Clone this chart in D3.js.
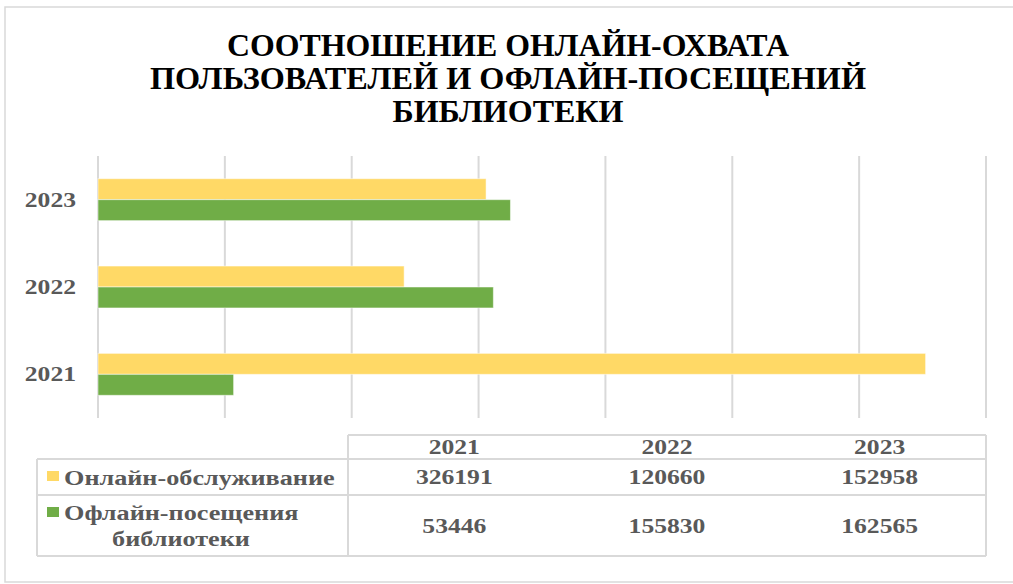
<!DOCTYPE html>
<html>
<head>
<meta charset="utf-8">
<script src="https://cdn.jsdelivr.net/npm/d3@7"></script>
<style>
  body { margin: 0; background: #fff; }
  svg { display: block; }
</style>
</head>
<body>
<div id="chart"></div>
<script>
const years = ["2021", "2022", "2023"]
const online = [326191, 120660, 152958]
const offline = [53446, 155830, 162565]
const seriesNames = ["Онлайн-обслуживание", "Офлайн-посещения библиотеки"]
const seriesColors = ["#FFD966", "#70AD47"]
const titleLines = ["СООТНОШЕНИЕ ОНЛАЙН-ОХВАТА", "ПОЛЬЗОВАТЕЛЕЙ И ОФЛАЙН-ПОСЕЩЕНИЙ", "БИБЛИОТЕКИ"]

const WIDTH = 1013
const HEIGHT = 584
const FONT = "'Liberation Serif', 'Times New Roman', serif"
const GRID = "#d9d9d9"
const TEXT = "#595959"

const PLOT = { LEFT: 98, RIGHT: 986, TOP: 156, BOTTOM: 418 }
const TABLE = { LEFT: 37, SPLIT: 348, RIGHT: 986, TOP: 435, HEAD: 459, ROW1: 495, BOTTOM: 556 }

// the picture is a bit stretched sideways, so text gets widened to match
const stretch = (sel, k) => sel.each(function () {
    const w = this.getComputedTextLength()
    d3.select(this).attr("textLength", w * k).attr("lengthAdjust", "spacingAndGlyphs")
})

const svg = d3.select("#chart")
    .append("svg")
    .attr("width", WIDTH)
    .attr("height", HEIGHT)

// outer chart frame
svg.append("rect")
    .attr("x", 5).attr("y", 7)
    .attr("width", 1030).attr("height", 575)
    .attr("fill", "none")
    .attr("stroke", GRID)
    .attr("stroke-width", 1.5)

// title
svg.append("g")
    .attr("font-family", FONT)
    .attr("font-weight", "bold")
    .attr("font-size", 32)
    .attr("text-anchor", "middle")
    .selectAll("text")
    .data(titleLines)
    .join("text")
    .attr("x", 508)
    .attr("y", (d, i) => 56 + i * 33)
    .attr("fill", "#000")
    .text(d => d)
    .attr("textLength", (d, i) => [562, 716, 231][i])
    .attr("lengthAdjust", "spacingAndGlyphs")

const x = d3.scaleLinear()
    .domain([0, 350000])
    .range([PLOT.LEFT, PLOT.RIGHT])

const y = d3.scaleBand()
    .domain(years.slice().reverse())
    .range([PLOT.TOP, PLOT.BOTTOM])
    .paddingInner(0.52)
    .paddingOuter(0.26)

const ySub = d3.scaleBand()
    .domain([0, 1])
    .range([0, y.bandwidth()])

// vertical gridlines
svg.append("g")
    .selectAll("line")
    .data(x.ticks(7))
    .join("line")
    .attr("x1", d => x(d)).attr("x2", d => x(d))
    .attr("y1", PLOT.TOP).attr("y2", PLOT.BOTTOM)
    .attr("stroke", GRID)
    .attr("stroke-width", 2)

// bars
const rows = years.map((yr, i) => ({ year: yr, values: [online[i], offline[i]] }))

svg.append("g")
    .selectAll("g")
    .data(rows)
    .join("g")
    .attr("transform", d => `translate(0, ${y(d.year)})`)
    .selectAll("rect")
    .data(d => d.values.map((v, s) => ({ v, s })))
    .join("rect")
    .attr("x", x(0))
    .attr("y", d => ySub(d.s))
    .attr("width", d => x(d.v) - x(0))
    .attr("height", ySub.bandwidth())
    .attr("fill", d => seriesColors[d.s])
    .attr("stroke", "#fff")
    .attr("stroke-opacity", 0.5)
    .attr("stroke-width", 1)

// category labels
svg.append("g")
    .attr("font-family", FONT)
    .attr("font-weight", "bold")
    .attr("font-size", 20)
    .attr("fill", TEXT)
    .attr("text-anchor", "end")
    .selectAll("text")
    .data(years)
    .join("text")
    .attr("x", 76)
    .attr("y", d => y(d) + y.bandwidth() / 2 + 7)
    .text(d => d)
    .call(stretch, 1.28)

// data table
const col = d3.scaleBand()
    .domain(years)
    .range([TABLE.SPLIT, TABLE.RIGHT])

const tbl = svg.append("g")
    .attr("stroke", GRID)
    .attr("stroke-width", 2)

tbl.append("line").attr("x1", TABLE.SPLIT).attr("x2", TABLE.RIGHT).attr("y1", TABLE.TOP).attr("y2", TABLE.TOP)
tbl.selectAll("line.h")
    .data([TABLE.HEAD, TABLE.ROW1, TABLE.BOTTOM])
    .join("line")
    .attr("class", "h")
    .attr("x1", TABLE.LEFT).attr("x2", TABLE.RIGHT)
    .attr("y1", d => d).attr("y2", d => d)
tbl.append("line").attr("x1", TABLE.LEFT).attr("x2", TABLE.LEFT).attr("y1", TABLE.HEAD).attr("y2", TABLE.BOTTOM)
tbl.append("line").attr("x1", TABLE.SPLIT).attr("x2", TABLE.SPLIT).attr("y1", TABLE.TOP).attr("y2", TABLE.BOTTOM)
tbl.append("line").attr("x1", TABLE.RIGHT).attr("x2", TABLE.RIGHT).attr("y1", TABLE.TOP).attr("y2", TABLE.BOTTOM)

const tText = svg.append("g")
    .attr("font-family", FONT)
    .attr("font-weight", "bold")
    .attr("font-size", 20)
    .attr("fill", TEXT)

const rowMid = [(TABLE.HEAD + TABLE.ROW1) / 2, (TABLE.ROW1 + TABLE.BOTTOM) / 2]

tText.append("g")
    .attr("text-anchor", "middle")
    .selectAll("text")
    .data(years)
    .join("text")
    .attr("x", d => col(d) + col.bandwidth() / 2)
    .attr("y", (TABLE.TOP + TABLE.HEAD) / 2 + 7)
    .text(d => d)
    .call(stretch, 1.28)

tText.append("g")
    .attr("text-anchor", "middle")
    .selectAll("text")
    .data([online, offline].flatMap((vals, s) => vals.map((v, i) => ({ v, s, yr: years[i] }))))
    .join("text")
    .attr("x", d => col(d.yr) + col.bandwidth() / 2)
    .attr("y", d => rowMid[d.s] + 7)
    .text(d => d.v)
    .call(stretch, 1.28)

// legend keys inside the table
svg.append("g")
    .selectAll("rect")
    .data(seriesColors)
    .join("rect")
    .attr("x", 47)
    .attr("y", (d, i) => [471, 507][i])
    .attr("width", 12)
    .attr("height", 10)
    .attr("fill", d => d)

tText.append("text")
    .attr("x", 64)
    .attr("y", rowMid[0] + 8)
    .text(seriesNames[0])
    .call(stretch, 1.31)

const words = seriesNames[1].split(" ")
tText.append("text")
    .attr("x", 64)
    .attr("y", 520)
    .text(words[0])
    .call(stretch, 1.31)

tText.append("text")
    .attr("x", 181)
    .attr("y", 546)
    .attr("text-anchor", "middle")
    .text(words[1])
    .call(stretch, 1.31)
</script>
</body>
</html>
